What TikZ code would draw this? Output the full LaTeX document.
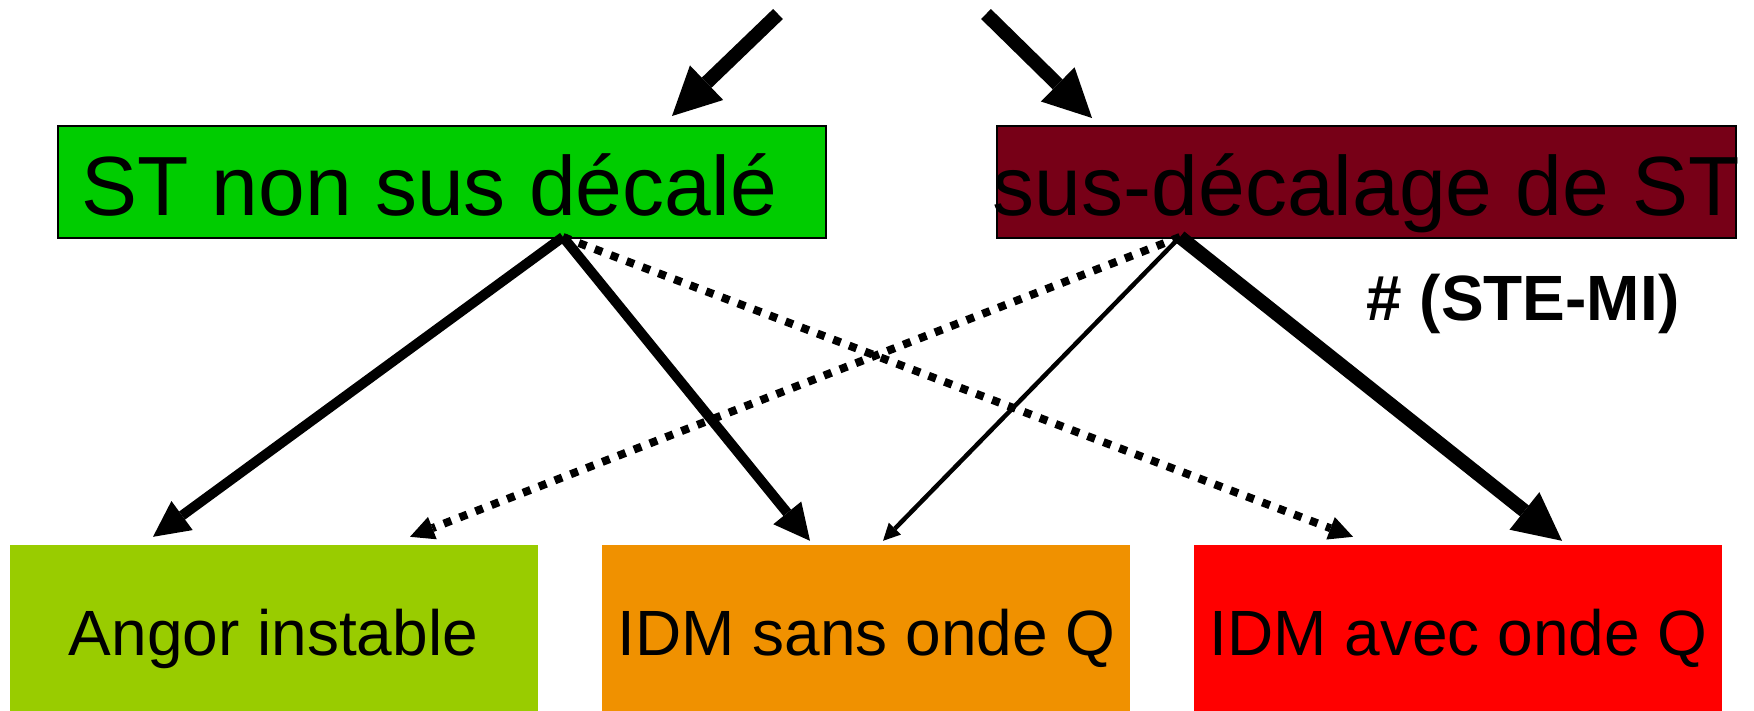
\documentclass[tikz,border=0pt]{standalone}
\usepackage{fontspec}
\setmainfont{Liberation Sans}
\usetikzlibrary{arrows.meta}

\definecolor{stgreen}{RGB}{0,204,0}
\definecolor{stdark}{RGB}{119,0,23}
\definecolor{angorcol}{RGB}{153,204,0}
\definecolor{sansq}{RGB}{240,145,0}
\definecolor{avecq}{RGB}{255,0,0}

\tikzset{
  topbox/.style={draw=black, line width=2pt, minimum width=#1, minimum height=112pt, inner sep=0pt},
  lowbox/.style={draw=none, minimum width=528pt, minimum height=166pt, inner sep=0pt},
  bigtext/.style={inner sep=0pt, anchor=base, font=\fontsize{84}{100}\selectfont},
  lowtext/.style={inner sep=0pt, anchor=base, font=\fontsize{64}{76}\selectfont},
  heavy/.style={line width=14pt, -{Triangle[length=48pt, width=48pt, line width=0pt]}},
  medium/.style={line width=10pt, -{Triangle[length=36pt, width=36pt, line width=0pt]}},
  light/.style={line width=4.5pt, -{Triangle[length=17pt, width=17pt, line width=0pt]}},
  dotline/.style={line width=8pt, dash pattern=on 8pt off 9pt, -{Triangle[length=24pt, width=24pt, line width=0pt]}},
}

\begin{document}
\begin{tikzpicture}[x=1pt, y=-1pt]
  \useasboundingbox (0,0) rectangle (1754,710);

  % upper boxes
  \node[topbox=768pt, fill=stgreen] (nsd) at (442,182) {};
  \node[topbox=739pt, fill=stdark] (sdst) at (1366.5,182) {};
  \node[bigtext] (nsdtxt) at (429,215) {ST non sus décalé};
  \node[bigtext] (sdsttxt) at (1366.5,215) {sus-décalage de ST};

  % lower boxes
  \node[lowbox, fill=angorcol] (angor) at (274,628) {};
  \node[lowbox, fill=sansq] (idmsans) at (866,628) {};
  \node[lowbox, fill=avecq] (idmavec) at (1458,628) {};
  \node[lowtext] (angortxt) at (273.5,655) {Angor instable};
  \node[lowtext] (sanstxt) at (866.5,655) {IDM sans onde Q};
  \node[lowtext] (avectxt) at (1458.5,655) {IDM avec onde Q};

  % side note
  \node[lowtext, font=\fontsize{64}{76}\selectfont\bfseries] (stemi) at (1523,320) {\# (STE-MI)};

  % incoming arrows
  \coordinate (srcL) at (778,14);
  \coordinate (srcR) at (986,14);
  \draw[heavy] (srcL) -- ([xshift=230pt, yshift=9pt]nsd.north);
  \draw[heavy] (srcR) -- ([xshift=-274.5pt, yshift=7pt]sdst.north);

  % from ST non sus decale
  \draw[medium] ([xshift=121pt, yshift=2pt]nsd.south) -- ([xshift=-121pt, yshift=8pt]angor.north);
  \draw[medium] ([xshift=121pt, yshift=2pt]nsd.south) -- ([xshift=-56pt, yshift=4pt]idmsans.north);
  \draw[dotline] ([xshift=121pt, yshift=2pt]nsd.south) -- ([xshift=-105pt, yshift=8pt]idmavec.north);

  % from sus-decalage de ST
  \draw[dotline] ([xshift=-186.5pt, yshift=2pt]sdst.south) -- ([xshift=136pt, yshift=8pt]angor.north);
  \draw[light] ([xshift=-186.5pt, yshift=2pt]sdst.south) -- ([xshift=17pt, yshift=4pt]idmsans.north);
  \draw[heavy] ([xshift=-186.5pt, yshift=2pt]sdst.south) -- ([xshift=104pt, yshift=4pt]idmavec.north);
\end{tikzpicture}
\end{document}
